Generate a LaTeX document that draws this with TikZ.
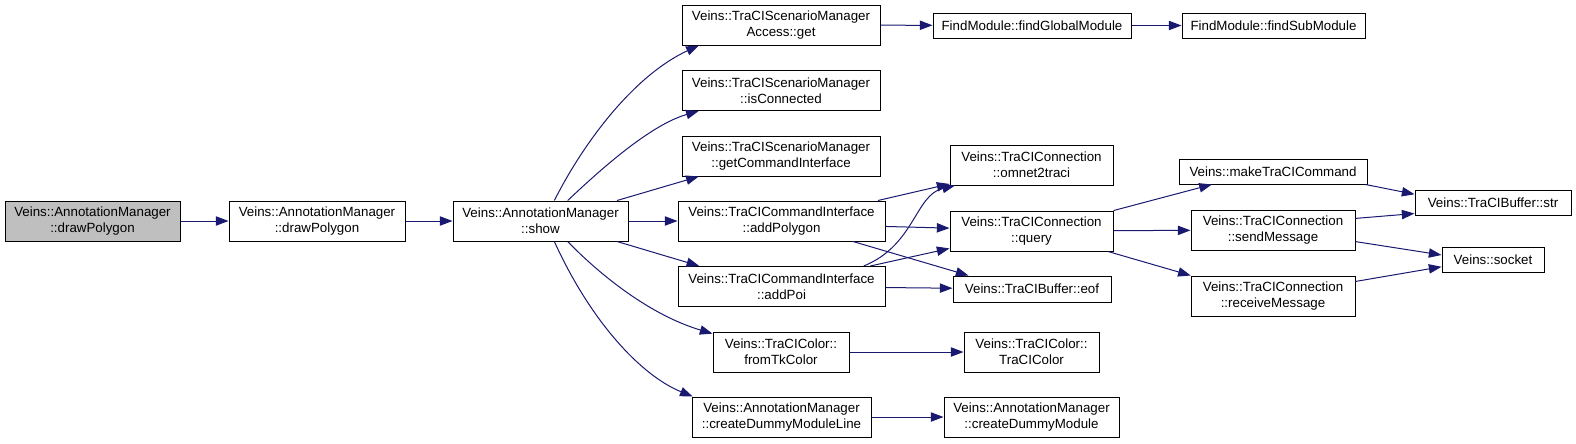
\documentclass[tikz,border=0pt]{standalone}
\usepackage{fontspec}
\setmainfont{Liberation Sans}
\usetikzlibrary{arrows.meta}
\definecolor{edgeblue}{HTML}{191970}
\definecolor{srcgray}{HTML}{BFBFBF}

\begin{document}
\begin{tikzpicture}[x=0.75pt, y=-0.75pt,
  every node/.style={font=\fontsize{10}{12}\selectfont},
  fn/.style={draw=black, line width=0.75pt, align=center, inner sep=0pt, fill=white},
  call/.style={draw=edgeblue, line width=0.75pt, -{Triangle[length=9.5pt,width=7pt]}}]
  \useasboundingbox (0,0) rectangle (1576,443);
  % functions
  \node[fn, fill=srcgray, minimum width=131.25pt, minimum height=30pt] (src) at (92.5,221)
    {Veins::AnnotationManager\\::drawPolygon};
  \foreach \n/\x/\y/\w/\h/\lab in {
      drawpoly/317/221/176/40/{Veins::AnnotationManager\\::drawPolygon},
      show/540.5/221/175/40/{Veins::AnnotationManager\\::show},
      scmget/781/25/198/40/{Veins::TraCIScenarioManager\\Access::get},
      findglobal/1032/25.5/198/25/{FindModule::findGlobalModule},
      findsub/1273.5/25.5/183/25/{FindModule::findSubModule},
      isconn/781/90.5/198/40/{Veins::TraCIScenarioManager\\::isConnected},
      getci/781/156/198/40/{Veins::TraCIScenarioManager\\::getCommandInterface},
      addpolygon/781.5/221/207/40/{Veins::TraCICommandInterface\\::addPolygon},
      addpoi/781.5/286.5/207/40/{Veins::TraCICommandInterface\\::addPoi},
      fromtk/781/352/136/40/{Veins::TraCIColor::\\fromTkColor},
      dummyline/781.5/417/179/40/{Veins::AnnotationManager\\::createDummyModuleLine},
      omnet/1031.5/165/163/40/{Veins::TraCIConnection\\::omnet2traci},
      query/1031.5/231/163/40/{Veins::TraCIConnection\\::query},
      eof/1032/289/158/26/{Veins::TraCIBuffer::eof},
      tracicolor/1031.5/352/135/40/{Veins::TraCIColor::\\TraCIColor},
      dummymod/1031.5/417/175/40/{Veins::AnnotationManager\\::createDummyModule},
      makecmd/1273/171.5/188/25/{Veins::makeTraCICommand},
      sendmsg/1273/230/164/40/{Veins::TraCIConnection\\::sendMessage},
      recvmsg/1273/296/164/40/{Veins::TraCIConnection\\::receiveMessage},
      bufstr/1493/202.5/156/25/{Veins::TraCIBuffer::str},
      socket/1493/259.5/102/25/{Veins::socket}}
    {
      \node[fn, minimum width=\w*0.75pt, minimum height=\h*0.75pt] (\n) at (\x,\y) {\lab};
    }
  % calls out of show
  \draw[call] (src) -- (drawpoly);
  \draw[call] (drawpoly) -- (show);
  \draw[call] (show.56) .. controls (585,140) and (635,75) .. (scmget.194);
  \draw[call] (show.37) .. controls (600,170) and (650,125) .. (isconn.194);
  \draw[call] (show.15) -- (getci.194);
  \draw[call] (show) -- (addpolygon);
  \draw[call] (show.345) -- (addpoi.166);
  \draw[call] (show.323) .. controls (600,275) and (650,315) .. (fromtk.165);
  \draw[call] (show.304) .. controls (590,320) and (640,375) .. (dummyline.167);
  \draw[call] (scmget) -- (findglobal);
  \draw[call] (findglobal) -- (findsub);
  % command interface
  \draw[call] (addpolygon.12) -- (omnet.193);
  \draw[call] (addpoi.14) .. controls (915,245) and (915,195) .. (omnet.195);
  \draw[call] (addpolygon.357) -- (query.178);
  \draw[call] (addpoi.13) -- (query.192);
  \draw[call] (addpolygon.344) -- (eof.168);
  \draw[call] (addpoi) -- (eof);
  \draw[call] (fromtk) -- (tracicolor);
  \draw[call] (dummyline) -- (dummymod);
  % connection
  \draw[call] (query.14) -- (makecmd.192);
  \draw[call] (query) -- (sendmsg);
  \draw[call] (query.345) -- (recvmsg.166);
  \draw[call] (makecmd.352) -- (bufstr.174);
  \draw[call] (sendmsg.8) -- (bufstr.188);
  \draw[call] (sendmsg.352) -- (socket.175);
  \draw[call] (recvmsg.10) -- (socket.188);
\end{tikzpicture}
\end{document}
